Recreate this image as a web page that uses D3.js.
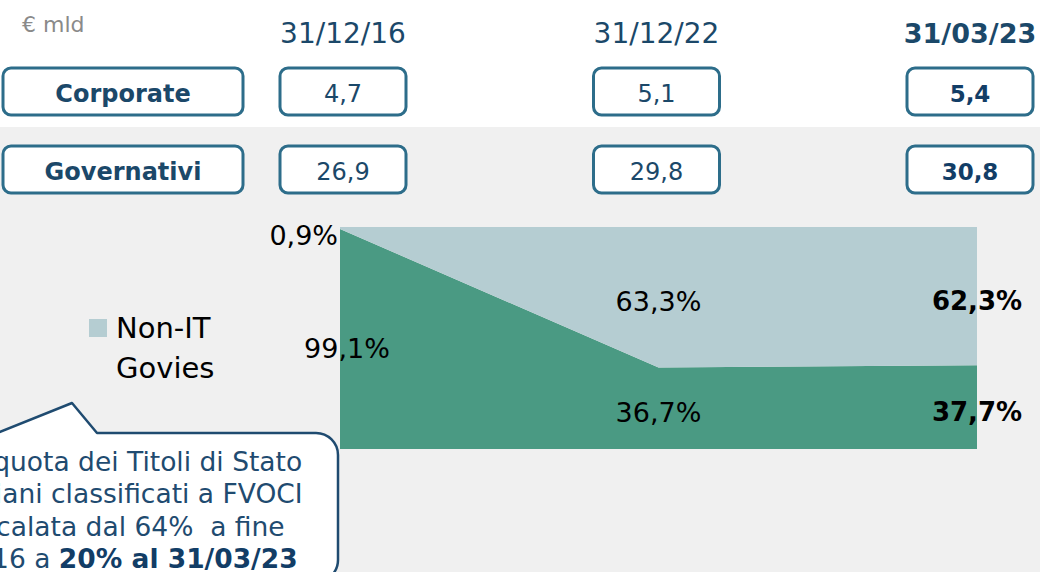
<!DOCTYPE html>
<html>
<head>
<meta charset="utf-8">
<script src="https://cdn.jsdelivr.net/npm/d3@7"></script>
<style>
  body { margin: 0; background: #fff; }
  svg { display: block; font-family: "DejaVu Sans", sans-serif; }
  .note { white-space: pre; }
</style>
</head>
<body>
<div id="chart"></div>
<script>
// data
var dates = ["31/12/16", "31/12/22", "31/03/23"];
var corporate = [4.7, 5.1, 5.4];
var governativi = [26.9, 29.8, 30.8];
var itGovies = [99.1, 36.7, 37.7];
var nonItGovies = [0.9, 63.3, 62.3];
var rowLabels = ["Corporate", "Governativi"];
var calloutLines = [
  [{ t: "La quota dei Titoli di Stato" }],
  [{ t: "italiani classificati a FVOCI" }],
  [{ t: "è calata dal 64%  a fine" }],
  [{ t: "2016 a " }, { t: "20% al 31/03/23", b: true }]
];

var width = 1040, height = 572;
var navy = "#1b4869", boxStroke = "#2d6d8a", darkNavy = "#123d66";
var greenFill = "#4a9a83", lightFill = "#b5cdd2";

var svg = d3.select("#chart").append("svg")
  .attr("width", width)
  .attr("height", height);

// grey band under the first row
svg.append("rect")
  .attr("x", 0).attr("y", 127)
  .attr("width", width).attr("height", height - 127)
  .attr("fill", "#f0f0f0");

// column positions for the header table
var colX = d3.scalePoint().domain(dates).range([343, 970]);
var last = dates[dates.length - 1];

svg.append("text")
  .attr("x", 22).attr("y", 32)
  .attr("font-size", 22)
  .attr("fill", "#8a8a8a")
  .text("€ mld");

svg.selectAll("text.date")
  .data(dates)
  .enter().append("text")
  .attr("class", "date")
  .attr("x", function (d) { return colX(d); })
  .attr("y", 43)
  .attr("text-anchor", "middle")
  .attr("font-size", function (d) { return d === last ? 27 : 28; })
  .attr("font-weight", function (d) { return d === last ? "bold" : "normal"; })
  .attr("fill", navy)
  .text(function (d) { return d; });

// rows of boxed values
var rows = [
  { label: rowLabels[0], values: corporate, top: 68 },
  { label: rowLabels[1], values: governativi, top: 146 }
];
var boxH = 47, boxW = 126;
var fmt = function (v) { return v.toFixed(1).replace(".", ","); };

rows.forEach(function (row) {
  var g = svg.append("g");
  g.append("rect")
    .attr("x", 3).attr("y", row.top)
    .attr("width", 240).attr("height", boxH)
    .attr("rx", 8)
    .attr("fill", "#fff")
    .attr("stroke", boxStroke)
    .attr("stroke-width", 3);
  g.append("text")
    .attr("x", 123).attr("y", row.top + 34)
    .attr("text-anchor", "middle")
    .attr("font-size", 24)
    .attr("font-weight", "bold")
    .attr("fill", navy)
    .text(row.label);

  dates.forEach(function (d, i) {
    var isLast = d === last;
    g.append("rect")
      .attr("x", colX(d) - boxW / 2).attr("y", row.top)
      .attr("width", boxW).attr("height", boxH)
      .attr("rx", 8)
      .attr("fill", "#fff")
      .attr("stroke", boxStroke)
      .attr("stroke-width", 3);
    g.append("text")
      .attr("x", colX(d)).attr("y", row.top + 34)
      .attr("text-anchor", "middle")
      .attr("font-size", isLast ? 23 : 24)
      .attr("font-weight", isLast ? "bold" : "normal")
      .attr("fill", isLast ? darkNavy : navy)
      .text(fmt(row.values[i]));
  });
});

// 100% stacked area
var x = d3.scalePoint().domain(dates).range([340, 977]);
var y = d3.scaleLinear().domain([0, 100]).range([449, 227]);

var table = dates.map(function (d, i) {
  return { date: d, it: itGovies[i], nonIt: nonItGovies[i] };
});
var series = d3.stack().keys(["it", "nonIt"])(table);
var fills = { it: greenFill, nonIt: lightFill };

var area = d3.area()
  .x(function (d) { return x(d.data.date); })
  .y0(function (d) { return y(d[0]); })
  .y1(function (d) { return y(d[1]); });

svg.selectAll("path.area")
  .data(series)
  .enter().append("path")
  .attr("class", "area")
  .attr("d", area)
  .attr("fill", function (s) { return fills[s.key]; });

// data labels
var pct = function (v) { return v.toFixed(1).replace(".", ",") + "%"; };
series.forEach(function (s) {
  s.forEach(function (d, i) {
    var date = d.data.date, v = d.data[s.key];
    var isLast = date === last;
    var t = svg.append("text")
      .attr("font-size", isLast ? 26 : 27)
      .attr("font-weight", isLast ? "bold" : "normal")
      .attr("fill", "#000")
      .text(pct(v));
    if (v < 5) {
      // tiny slice: label sits outside to the left
      t.attr("x", x(date) - 2).attr("y", y(d[1]) + 18).attr("text-anchor", "end");
    } else {
      var mid = (y(d[0]) + y(d[1])) / 2;
      t.attr("x", x(date) + (i === 0 ? 7 : 0))
        .attr("y", mid + (i === 0 ? 19 : 14))
        .attr("text-anchor", "middle");
    }
  });
});

// legend (only the visible entry)
svg.append("rect")
  .attr("x", 89).attr("y", 319)
  .attr("width", 18).attr("height", 18)
  .attr("fill", lightFill);
var leg = svg.append("text")
  .attr("font-size", 29)
  .attr("fill", "#000");
leg.append("tspan").attr("x", 116).attr("y", 338).text("Non-IT");
leg.append("tspan").attr("x", 116).attr("y", 378).text("Govies");

// callout bubble, cut by the left edge of the slide
var r = 22, bx1 = 338, by = 433;
var bubble = d3.path();
bubble.moveTo(-60, by);
bubble.lineTo(-3, by);
bubble.lineTo(72, 403);
bubble.lineTo(97, by);
bubble.lineTo(bx1 - r, by);
bubble.arcTo(bx1, by, bx1, by + r, r);
bubble.lineTo(bx1, 560);
bubble.arcTo(bx1, 582, bx1 - r, 582, r);
bubble.lineTo(-60, 582);
bubble.closePath();
svg.append("path")
  .attr("d", bubble.toString())
  .attr("fill", "#fff")
  .attr("stroke", "#1f4b70")
  .attr("stroke-width", 2.5)
  .attr("stroke-linejoin", "round");

var note = svg.append("text")
  .attr("class", "note")
  .attr("text-anchor", "middle")
  .attr("font-size", 26.5)
  .attr("fill", "#1f4b70");
calloutLines.forEach(function (line, i) {
  line.forEach(function (part, j) {
    var ts = note.append("tspan").text(part.t);
    if (j === 0) ts.attr("x", 128).attr("y", 471 + i * 32.3);
    if (part.b) ts.attr("font-weight", "bold").attr("fill", darkNavy);
  });
});
</script>
</body>
</html>
